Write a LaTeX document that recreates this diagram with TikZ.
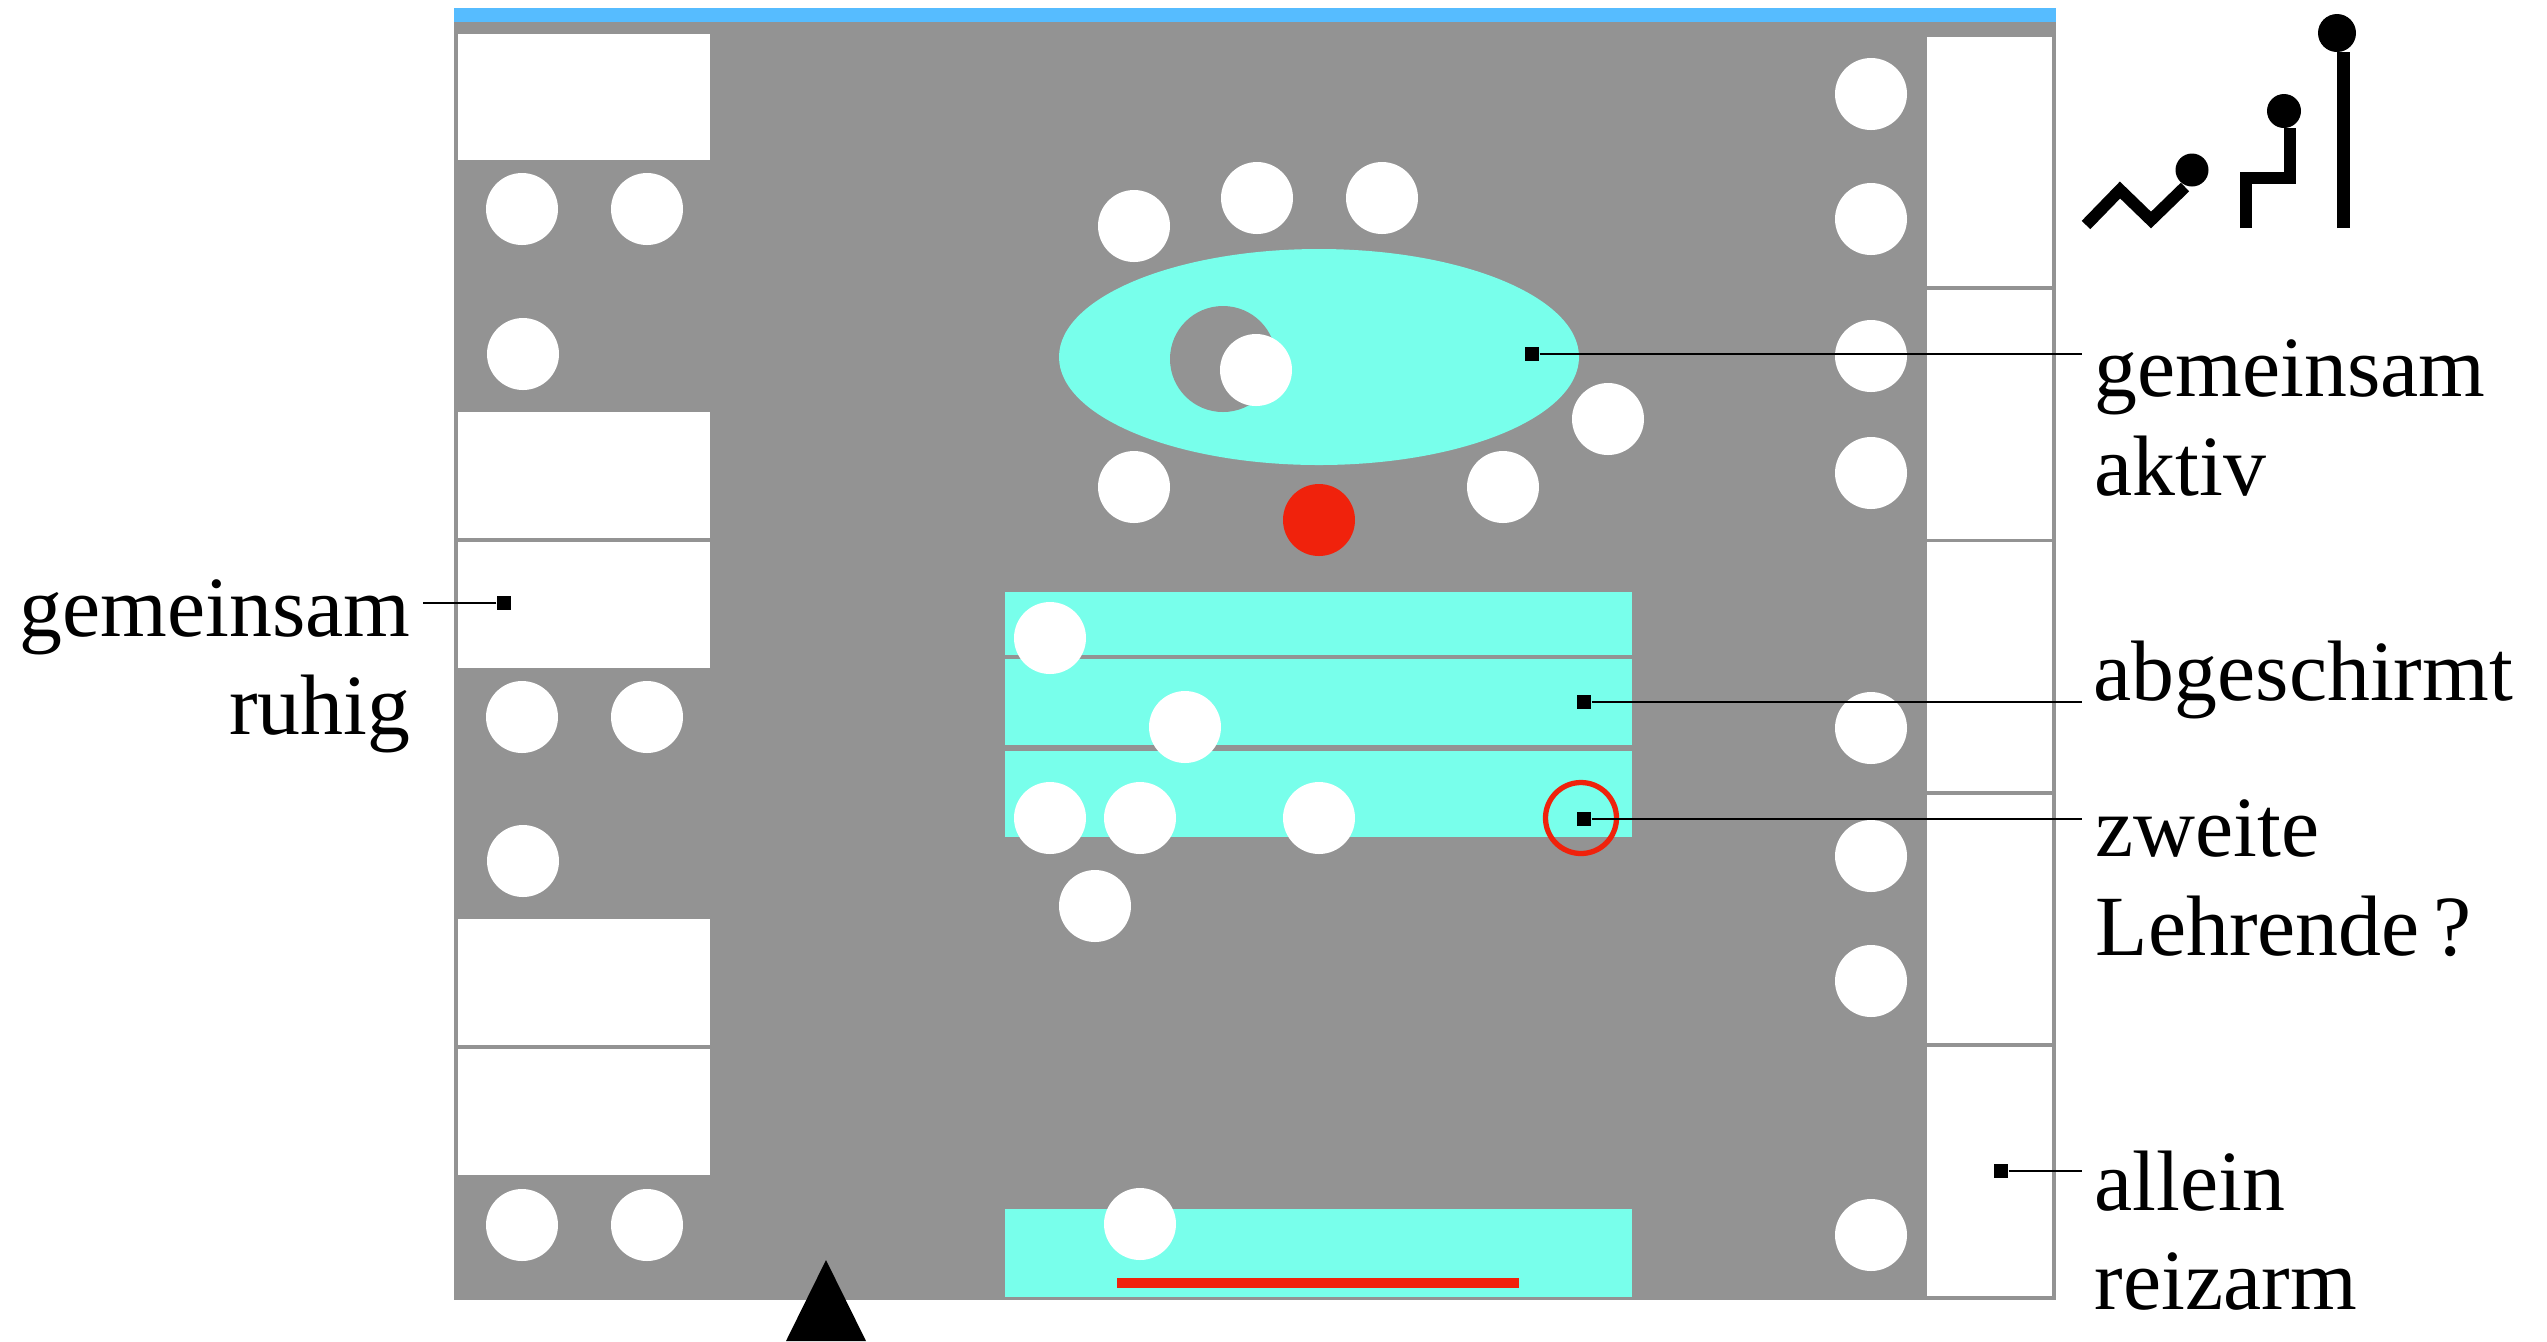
\documentclass[tikz,border=0pt]{standalone}
\usepackage{fontspec}
\setmainfont{Liberation Serif}
\definecolor{floorgray}{HTML}{939393}
\definecolor{zonecyan}{HTML}{78FFEB}
\definecolor{wallblue}{HTML}{56BCFF}
\definecolor{teachred}{HTML}{F0220C}
\tikzset{
  seat/.style={fill=white},
  desk/.style={fill=white},
  zone/.style={fill=zonecyan},
  tag/.style={fill=black,inner sep=0pt,minimum size=0.14cm},
  leader/.style={line width=0.7pt},
  figure/.style={line width=3.4pt},
  caption/.style={font=\fontsize{24.4}{28}\selectfont,inner sep=0pt,anchor=base west},
  captionr/.style={font=\fontsize{24.4}{28}\selectfont,inner sep=0pt,anchor=base east}
}
\begin{document}
\begin{tikzpicture}[x=0.01cm,y=-0.01cm]
  \useasboundingbox (0,0) rectangle (2547,1341);
  % room
  \fill[floorgray] (454,22) rectangle (2056,1300);
  \fill[wallblue] (454,8) rectangle (2056,22);
  % left tables
  \fill[desk] (458,34) rectangle (710,160);
  \fill[desk] (458,412) rectangle (710,538);
  \fill[desk] (458,542) rectangle (710,668);
  \fill[desk] (458,919) rectangle (710,1045);
  \fill[desk] (458,1049) rectangle (710,1175);
  % right tables
  \fill[desk] (1927,37) rectangle (2052,286);
  \fill[desk] (1927,290) rectangle (2052,539);
  \fill[desk] (1927,542) rectangle (2052,791);
  \fill[desk] (1927,795) rectangle (2052,1043);
  \fill[desk] (1927,1047) rectangle (2052,1296);
  % zones
  \fill[zone] (1319,357) ellipse (260 and 108);
  \fill[floorgray] (1223,359) circle (53);
  \fill[zone] (1005,592) rectangle (1632,655);
  \fill[zone] (1005,659) rectangle (1632,745);
  \fill[zone] (1005,751) rectangle (1632,837);
  \fill[zone] (1005,1209) rectangle (1632,1297);
  % seats
  \fill[seat] (522,209) circle (36);
  \fill[seat] (647,209) circle (36);
  \fill[seat] (523,354) circle (36);
  \fill[seat] (522,717) circle (36);
  \fill[seat] (647,717) circle (36);
  \fill[seat] (523,861) circle (36);
  \fill[seat] (522,1225) circle (36);
  \fill[seat] (647,1225) circle (36);
  \fill[seat] (1134,226) circle (36);
  \fill[seat] (1257,198) circle (36);
  \fill[seat] (1382,198) circle (36);
  \fill[seat] (1256,370) circle (36);
  \fill[seat] (1608,419) circle (36);
  \fill[seat] (1134,487) circle (36);
  \fill[seat] (1503,487) circle (36);
  \fill[seat] (1050,638) circle (36);
  \fill[seat] (1185,727) circle (36);
  \fill[seat] (1050,818) circle (36);
  \fill[seat] (1140,818) circle (36);
  \fill[seat] (1319,818) circle (36);
  \fill[seat] (1095,906) circle (36);
  \fill[seat] (1140,1224) circle (36);
  \fill[seat] (1871,94) circle (36);
  \fill[seat] (1871,219) circle (36);
  \fill[seat] (1871,356) circle (36);
  \fill[seat] (1871,473) circle (36);
  \fill[seat] (1871,728) circle (36);
  \fill[seat] (1871,856) circle (36);
  \fill[seat] (1871,981) circle (36);
  \fill[seat] (1871,1235) circle (36);
  % teacher
  \fill[teachred] (1319,520) circle (36);
  \draw[teachred,line width=1.5pt] (1581,818) circle (35.5);
  \fill[teachred] (1117,1278) rectangle (1519,1288);
  \fill (826,1260) -- (866,1341) -- (786,1341) -- cycle;
  % postures
  \draw[figure] (2086,225) -- (2120,190) -- (2151,220) -- (2185,187);
  \fill (2192,170) circle (16.5);
  \draw[figure] (2246,228) -- (2246,178) -- (2290,178) -- (2290,128);
  \fill (2284,111) circle (17);
  \draw[figure,line width=3.7pt] (2343.5,228) -- (2343.5,52);
  \fill (2337,33) circle (19);
  % labels
  \node[caption] (aktiv) at (2094,396) {gemeinsam};
  \node[caption] (aktivb) at (2094,495) {aktiv};
  \node[caption] (abg) at (2093,700) {abgeschirmt};
  \node[caption] (zweite) at (2095,856) {zweite};
  \node[caption] (lehr) at (2095,955) {Lehrende\,?};
  \node[caption] (allein) at (2094,1210) {allein};
  \node[caption] (reiz) at (2094,1309) {reizarm};
  \node[captionr] (ruhig) at (411,636) {gemeinsam};
  \node[captionr] (ruhigb) at (411,734) {ruhig};
  % leaders
  \node[tag] (t1) at (1532,354) {};
  \node[tag] (t2) at (1584,702) {};
  \node[tag] (t3) at (1584,819) {};
  \node[tag] (t4) at (2001,1171) {};
  \node[tag] (t5) at (504,603) {};
  \coordinate (e1) at (2082,354);
  \coordinate (e2) at (2082,702);
  \coordinate (e3) at (2082,819);
  \coordinate (e4) at (2082,1171);
  \coordinate (e5) at (423,603);
  \draw[leader] (t1) -- (e1);
  \draw[leader] (t2) -- (e2);
  \draw[leader] (t3) -- (e3);
  \draw[leader] (t4) -- (e4);
  \draw[leader] (t5) -- (e5);
\end{tikzpicture}
\end{document}
